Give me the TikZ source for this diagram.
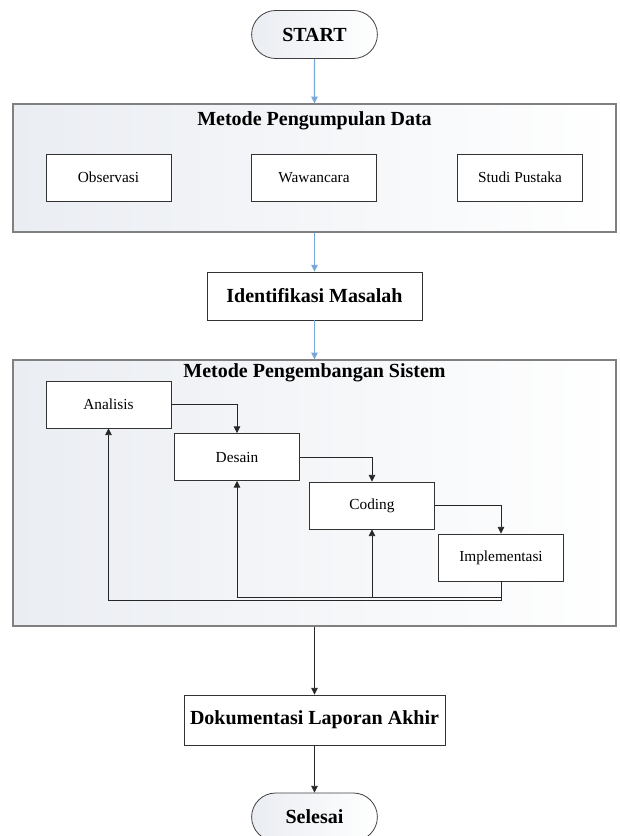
\documentclass[tikz,border=0pt]{standalone}
\usepackage{fontspec}
\setmainfont{Liberation Serif}
\usepackage{xcolor}
\usepackage{tikz}
\usetikzlibrary{arrows.meta,positioning,calc,shapes.misc}
\definecolor{frameg}{HTML}{808080}
\definecolor{shadeg}{HTML}{EAEDF2}
\definecolor{linkb}{HTML}{7AA7DA}

\begin{document}
\begin{tikzpicture}[x=0.75pt,y=-0.75pt,>={Triangle[length=5pt,width=4.8pt]},
  term/.style={rounded rectangle,draw=black!75,line width=0.6pt,left color=shadeg,right color=white,
               minimum width=101pt,minimum height=36pt,font=\fontsize{15}{17}\selectfont\bfseries},
  frame/.style={draw=frameg,line width=1pt,left color=shadeg,right color=white,
                minimum width=452.25pt,inner sep=0pt},
  ttl/.style={font=\fontsize{15}{17}\selectfont\bfseries},
  sbox/.style={draw=black!80,line width=0.6pt,fill=white,minimum width=93.75pt,minimum height=35.25pt,
               font=\fontsize{11.5}{13}\selectfont},
  mbox/.style={draw=black!80,line width=0.6pt,fill=white,font=\fontsize{15}{17}\selectfont\bfseries},
  blu/.style={->,draw=linkb,line width=0.8pt},
  lnk/.style={->,draw=black!85,line width=0.6pt}]

  \useasboundingbox (0,0) rectangle (619,836);

  % ---------- start ----------
  \node[term] (start) at (314.5,34.5) {START};

  % ---------- data collection ----------
  \node[frame,minimum height=96pt] (pd) at (314.5,168) {};
  \node[ttl] (pdlab) at (314.5,121) {Metode Pengumpulan Data};
  \node[sbox] (obs) at (108.5,177.5) {Observasi};
  \node[sbox] (waw) at (314,177.5) {Wawancara};
  \node[sbox] (pus) at (520,177.5) {Studi Pustaka};

  % ---------- problem ----------
  \node[mbox,minimum width=161.25pt,minimum height=36pt] (idm) at (314.5,296) {Identifikasi Masalah};

  % ---------- development ----------
  \node[frame,minimum height=199.5pt] (ps) at (314.5,493) {};
  \node[ttl] (pslab) at (314.5,373) {Metode Pengembangan Sistem};
  \node[sbox] (ana) at (108.5,404.5) {Analisis};
  \node[sbox] (des) at (237,457) {Desain};
  \node[sbox] (cod) at (372,505.5) {Coding};
  \node[sbox] (imp) at (501,557.5) {Implementasi};

  % ---------- end ----------
  \node[mbox,minimum width=195.75pt,minimum height=37.5pt] (dok) at (314.5,720) {Dokumentasi Laporan Akhir};
  \node[term] (sel) at (314.5,817) {Selesai};

  % ---------- arrows ----------
  \draw[blu] (start) -- (pd);
  \draw[blu] (pd) -- (idm);
  \draw[blu] (idm) -- (ps);
  \draw[lnk] (ana.east) -| (des.north);
  \draw[lnk] (des.east) -| (cod.north);
  \draw[lnk] (cod.east) -| (imp.north);
  \coordinate (backa) at (501,600);
  \coordinate (backb) at (501,597.5);
  \draw[lnk] (imp.south) -- (backa) -| (ana.south);
  \draw[lnk] (imp.south) -- (backb) -| (des.south);
  \draw[lnk] (backb) -| (cod.south);
  \draw[lnk] (ps) -- (dok);
  \draw[lnk] (dok) -- (sel);
\end{tikzpicture}
\end{document}
